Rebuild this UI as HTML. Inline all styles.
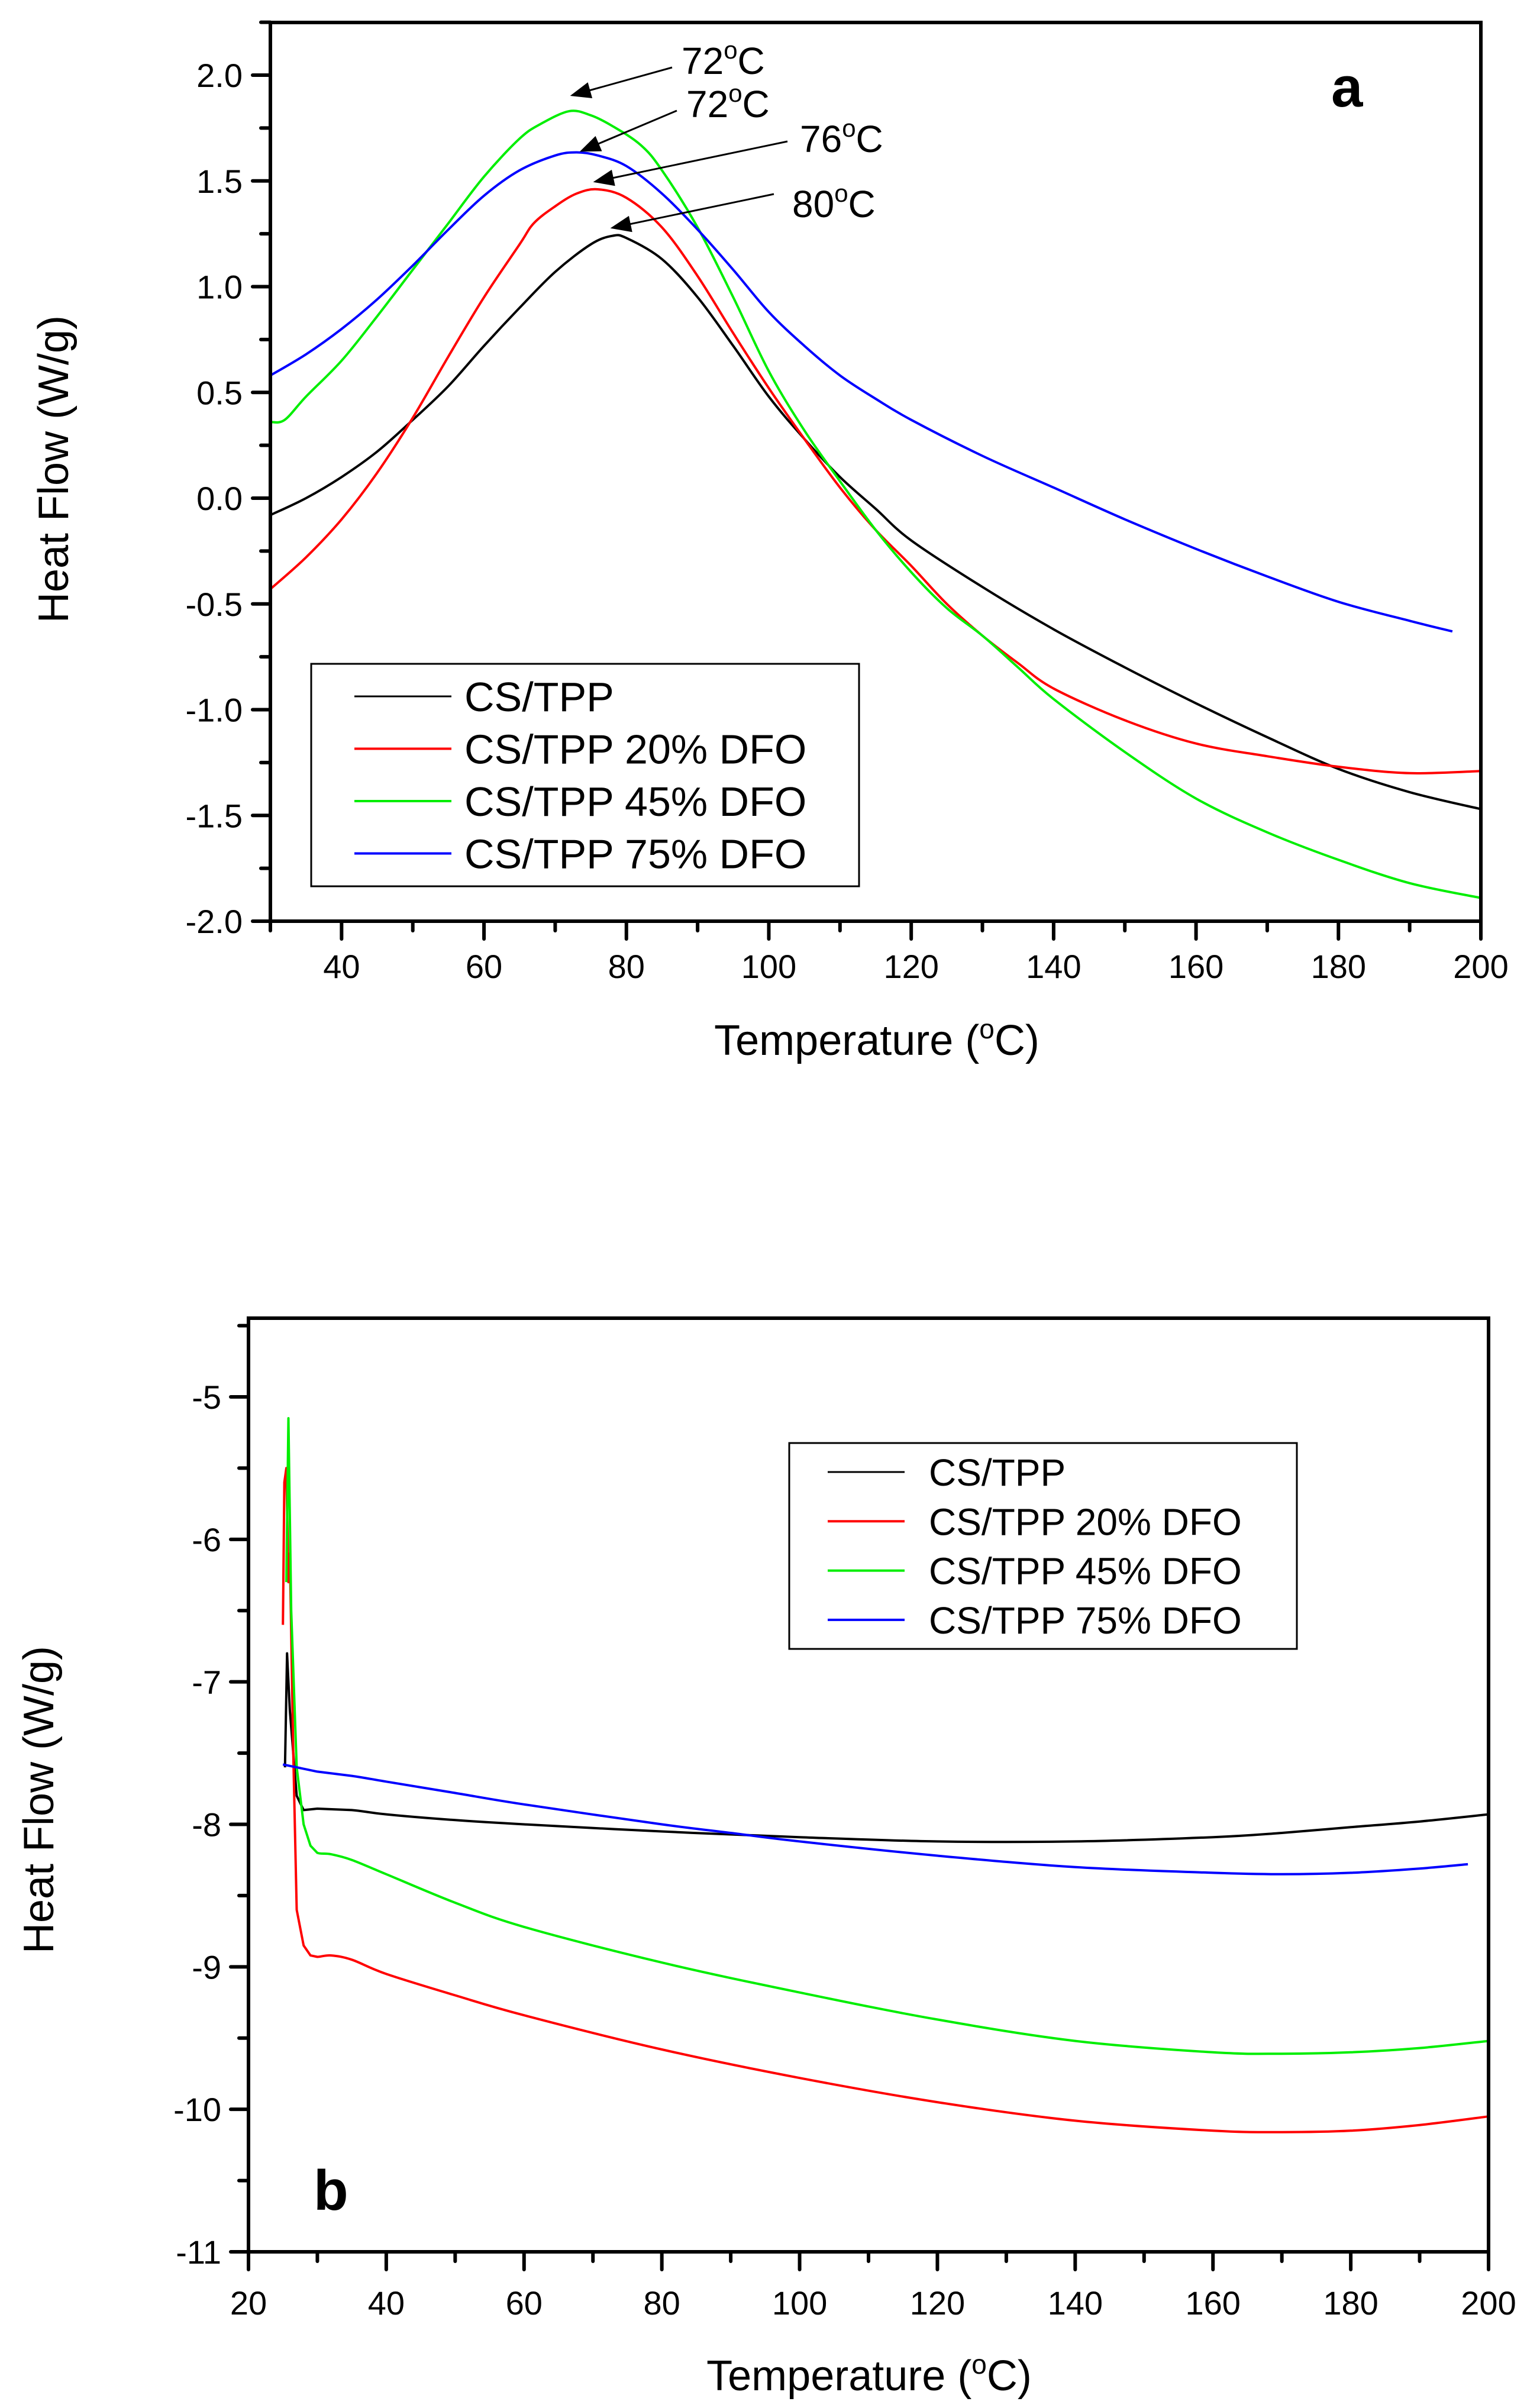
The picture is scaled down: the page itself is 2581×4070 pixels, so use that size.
<!DOCTYPE html>
<html><head><meta charset="utf-8"><style>
html,body{margin:0;padding:0;background:#fff}
svg{display:block}
text{font-family:"Liberation Sans",Arial,sans-serif;fill:#000}
</style></head><body>
<svg id="chart" width="2581" height="4070" viewBox="0 0 2581 4070" xmlns="http://www.w3.org/2000/svg"></svg>
<script>
// ---- Panel a data ----
const aBlackT=[30,35,40,45,50,55,60,65,70,75,78,80,85,90,95,100,105,110,115,120,130,140,150,160,170,180,190,200];
const aBlackV=[-0.08,0.0,0.1,0.22,0.37,0.53,0.72,0.9,1.07,1.2,1.24,1.23,1.13,0.95,0.72,0.48,0.28,0.1,-0.05,-0.2,-0.42,-0.62,-0.8,-0.97,-1.13,-1.28,-1.39,-1.47];
const aRedT=[30,35,40,45,50,55,60,65,67,70,73,76,80,85,90,95,100,105,110,115,120,125,130,135,140,150,160,170,180,190,200];
const aRedV=[-0.43,-0.28,-0.1,0.12,0.38,0.67,0.95,1.2,1.3,1.38,1.44,1.46,1.42,1.28,1.05,0.78,0.52,0.28,0.05,-0.15,-0.32,-0.5,-0.65,-0.78,-0.9,-1.05,-1.16,-1.22,-1.27,-1.3,-1.29];
const aGreenT=[30,32,35,40,45,50,55,60,65,68,72,75,78,82,85,90,95,100,105,110,115,120,125,130,135,140,150,160,170,180,190,200];
const aGreenV=[0.36,0.37,0.48,0.65,0.86,1.08,1.3,1.52,1.7,1.77,1.83,1.81,1.76,1.67,1.55,1.28,0.95,0.6,0.32,0.08,-0.15,-0.35,-0.52,-0.65,-0.8,-0.95,-1.2,-1.42,-1.58,-1.71,-1.82,-1.89];
const aBlueT=[30,35,40,45,50,55,60,65,70,73,76,80,85,90,95,100,105,110,115,120,130,140,150,160,170,180,190,196];
const aBlueV=[0.58,0.68,0.8,0.94,1.1,1.27,1.43,1.55,1.62,1.635,1.62,1.57,1.44,1.27,1.08,0.88,0.72,0.58,0.47,0.37,0.2,0.05,-0.1,-0.24,-0.37,-0.49,-0.58,-0.63];
const aXTicks=[40,60,80,100,120,140,160,180,200];
const aYTicks=[-2.0,-1.5,-1.0,-0.5,0.0,0.5,1.0,1.5,2.0];
const aPeakLabels=["72","72","76","80"];
// ---- Panel b data ----
const bBlackT=[25.3,25.6,26,27,28,30,35,40,50,60,80,100,120,140,160,170,180,190,200];
const bBlackV=[-7.6,-6.8,-7.2,-7.8,-7.9,-7.89,-7.9,-7.93,-7.97,-8.0,-8.05,-8.09,-8.12,-8.12,-8.09,-8.06,-8.02,-7.98,-7.93];
const bRedT=[25,25.2,25.5,25.8,26,26.5,27,28,29,30,32,35,40,50,60,80,100,120,140,160,170,180,190,200];
const bRedV=[-6.6,-5.6,-5.5,-6.3,-6.1,-7.5,-8.6,-8.85,-8.92,-8.93,-8.92,-8.95,-9.05,-9.2,-9.34,-9.58,-9.78,-9.95,-10.08,-10.15,-10.16,-10.15,-10.11,-10.05];
const bGreenT=[25.5,25.8,26.2,27,28,29,30,32,35,40,50,60,80,100,120,140,160,170,180,190,200];
const bGreenV=[-6.3,-5.15,-6.5,-7.6,-8.0,-8.15,-8.2,-8.21,-8.25,-8.35,-8.55,-8.72,-8.97,-9.18,-9.37,-9.52,-9.6,-9.61,-9.6,-9.57,-9.52];
const bBlueT=[25,30,35,40,50,60,80,90,100,120,140,160,170,180,190,197];
const bBlueV=[-7.58,-7.63,-7.66,-7.7,-7.78,-7.86,-8.0,-8.06,-8.12,-8.22,-8.3,-8.34,-8.35,-8.34,-8.31,-8.28];
const bXTicks=[20,40,60,80,100,120,140,160,180,200];
const bYTicks=[-11,-10,-9,-8,-7,-6,-5];
const seriesNames=["CS/TPP","CS/TPP 20% DFO","CS/TPP 45% DFO","CS/TPP 75% DFO"];
const seriesColors=["#000000","#ff0000","#00ee00","#0000ff"];

const NS="http://www.w3.org/2000/svg";
const svg=document.getElementById('chart');
function el(tag,attrs,parent){const e=document.createElementNS(NS,tag);for(const k in attrs)e.setAttribute(k,attrs[k]);(parent||svg).appendChild(e);return e;}

function smoothPath(P,smoothFrom){
  let d='M'+P[0][0].toFixed(1)+','+P[0][1].toFixed(1);
  for(let i=0;i<P.length-1;i++){
    const p0=P[Math.max(0,i-1)],p1=P[i],p2=P[i+1],p3=P[Math.min(P.length-1,i+2)];
    if(p1[2]<smoothFrom||p0[2]<smoothFrom){d+=' L'+p2[0].toFixed(1)+','+p2[1].toFixed(1);continue;}
    const c1=[p1[0]+(p2[0]-p0[0])/6,p1[1]+(p2[1]-p0[1])/6];
    const c2=[p2[0]-(p3[0]-p1[0])/6,p2[1]-(p3[1]-p1[1])/6];
    d+=' C'+c1[0].toFixed(1)+','+c1[1].toFixed(1)+' '+c2[0].toFixed(1)+','+c2[1].toFixed(1)+' '+p2[0].toFixed(1)+','+p2[1].toFixed(1);
  }
  return d;
}

function panel(cfg){
  const g=el('g',{});
  
  
  const xs=v=>cfg.L+(v-cfg.x0)*(cfg.R-cfg.L)/(cfg.x1-cfg.x0);
  const ys=v=>cfg.B-(v-cfg.y0)*(cfg.B-cfg.yRef)/(cfg.yRefV-cfg.y0);
  for(let v=cfg.xMinorStart;v<=cfg.x1+1e-9;v+=cfg.xMinor){
    const isMajor=cfg.xTicks.some(t=>Math.abs(t-v)<1e-6);
    const t=el('line',{x1:xs(v),x2:xs(v),y1:cfg.B,y2:cfg.B+(isMajor?30:16),stroke:'#000','stroke-width':6,'stroke-linecap':'round'},g);
    
    
  }
  for(let v=cfg.y0;v<=cfg.yTop+1e-9;v+=cfg.yMinor){
    const isMajor=cfg.yTicks.some(t=>Math.abs(t-v)<1e-6);
    const t=el('line',{x1:cfg.L,x2:cfg.L-(isMajor?30:16),y1:ys(v),y2:ys(v),stroke:'#000','stroke-width':6,'stroke-linecap':'round'},g);
    
    
  }
  cfg.xTicks.forEach(v=>{
    const t=el('text',{x:xs(v),y:cfg.xLabY,'font-size':56,'text-anchor':'middle'},g);
    t.textContent=String(v);
    
    
  });
  cfg.yTicks.forEach(v=>{
    const t=el('text',{x:cfg.yLabX,y:ys(v)+20,'font-size':56,'text-anchor':'end'},g);
    t.textContent=cfg.yFmt(v);
    
    
  });
  cfg.series.forEach((s,i)=>{
    const P=s.t.map((t,j)=>[xs(t),ys(s.v[j]),t]);
    const p=el('path',{d:smoothPath(P,cfg.smoothFrom),fill:'none',stroke:seriesColors[i],'stroke-width':4,'stroke-linejoin':'round'},g);
    
    
  });
  const f=el('rect',{x:cfg.L,y:cfg.T,width:cfg.R-cfg.L,height:cfg.B-cfg.T,fill:'none',stroke:'#000','stroke-width':6},g);
  
  
  const lg=cfg.leg;
  const lgG=el('g',{},g);
  
  
  el('rect',{x:lg.x,y:lg.y,width:lg.w,height:lg.h,fill:'#fff',stroke:'#000','stroke-width':3},lgG);
  seriesNames.forEach((n,i)=>{
    const yy=lg.row0+i*lg.dy;
    const e=el('g',{},lgG);
    
    
    el('line',{x1:lg.lx1,x2:lg.lx2,y1:yy,y2:yy,stroke:seriesColors[i],'stroke-width':i===0?3:4},e);
    const t=el('text',{x:lg.tx,y:yy+lg.fs*0.36,'font-size':lg.fs},e);
    t.textContent=n;
  });
  return {xs,ys,g};
}

const A=panel({name:'panel-a',L:457,R:2503,T:38,B:1557,x0:30,x1:200,y0:-2,yRefV:2,yRef:127,yTop:2.25,
  xTicks:aXTicks,yTicks:aYTicks,xMinor:10,xMinorStart:30,yMinor:0.25,xLabY:1653,yLabX:410,smoothFrom:0,
  yFmt:v=>v.toFixed(1),
  series:[{t:aBlackT,v:aBlackV},{t:aRedT,v:aRedV},{t:aGreenT,v:aGreenV},{t:aBlueT,v:aBlueV}],
  leg:{x:526,y:1122,w:926,h:376,row0:1177,dy:88.5,lx1:599,lx2:763,tx:785,fs:70}});
const B=panel({name:'panel-b',L:420,R:2516,T:2228,B:3806,x0:20,x1:200,y0:-11,yRefV:-5,yRef:2361,yTop:-4.5,
  xTicks:bXTicks,yTicks:bYTicks,xMinor:10,xMinorStart:20,yMinor:0.5,xLabY:3912,yLabX:374,smoothFrom:29,
  yFmt:v=>String(v),
  series:[{t:bBlackT,v:bBlackV},{t:bRedT,v:bRedV},{t:bGreenT,v:bGreenV},{t:bBlueT,v:bBlueV}],
  leg:{x:1334,y:2439,w:858,h:348,row0:2488,dy:83.3,lx1:1399,lx2:1529,tx:1570,fs:64}});

function title(x,y,txt,rot,name){
  const t=el('text',{x:x,y:y,'font-size':72,'text-anchor':'middle',transform:rot?`rotate(-90 ${x} ${y})`:''});
  
  
  t.innerHTML=txt;
}
title(1482,1783,'Temperature (<tspan dy="-28" font-size="46">o</tspan><tspan dy="28">C)</tspan>',false,'x-axis-title-a');
title(115,793,'Heat Flow (W/g)',true,'y-axis-title-a');
title(1469,4040,'Temperature (<tspan dy="-28" font-size="46">o</tspan><tspan dy="28">C)</tspan>',false,'x-axis-title-b');
title(90,3042,'Heat Flow (W/g)',true,'y-axis-title-b');

const la=el('text',{x:2250,y:180,'font-size':96,'font-weight':'bold'});la.textContent='a';


const lb=el('text',{x:530,y:3735,'font-size':96,'font-weight':'bold'});lb.textContent='b';



const annPos=[[1152,125,1136,114,967,161],[1160,198,1144,187,983,255],[1352,257,1331,239,1006,307],[1339,367,1308,328,1035,385]];
const defs=el('defs',{});
const mk=el('marker',{id:'arr',refX:9,refY:4,orient:'auto',markerUnits:'userSpaceOnUse',viewBox:'0 0 10 8'},defs);
mk.setAttribute('markerWidth',40);mk.setAttribute('markerHeight',28);
el('path',{d:'M0,0 L10,4 L0,8 Z',fill:'#000'},mk);
aPeakLabels.forEach((lab,i)=>{
  const p=annPos[i];
  const g=el('g',{});
  
  
  el('line',{x1:p[2],y1:p[3],x2:p[4],y2:p[5],stroke:'#000','stroke-width':3,'marker-end':'url(#arr)'},g);
  const t=el('text',{x:p[0],y:p[1],'font-size':64},g);
  t.innerHTML=lab+'<tspan dy="-26" font-size="42">o</tspan><tspan dy="26">C</tspan>';
});
</script>
</body></html>
